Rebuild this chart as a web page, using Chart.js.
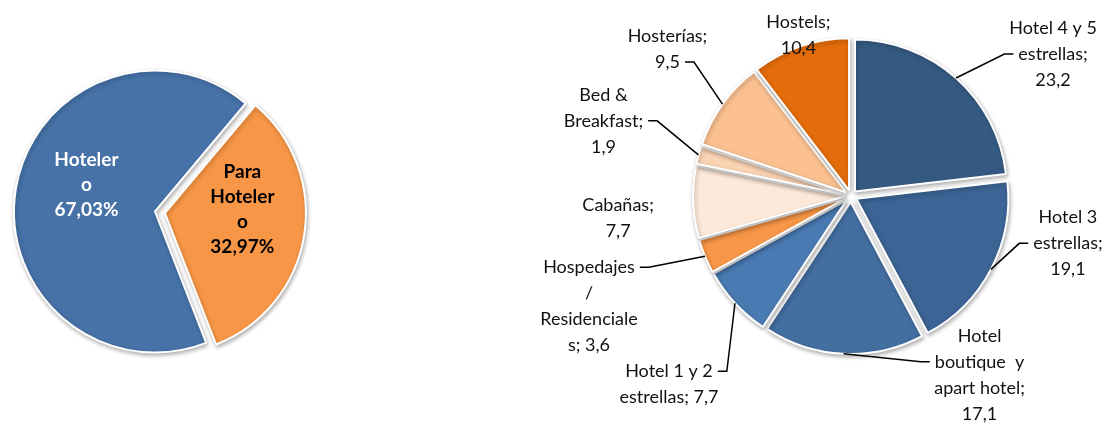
<!DOCTYPE html>
<html>
<head>
<meta charset="utf-8">
<script src="https://cdn.jsdelivr.net/npm/chart.js@4.4.1/dist/chart.umd.min.js"></script>
<style>
    body { margin: 0; background: #fff; width: 1107px; height: 423px; overflow: hidden; position: relative; }
    .box { position: absolute; top: 0; height: 423px; }
    #leftBox { left: 0; width: 330px; }
    #rightBox { left: 500px; width: 607px; }
</style>
</head>
<body>
<div class="box" id="leftBox"><canvas id="leftChart"></canvas></div>
<div class="box" id="rightBox"><canvas id="rightChart"></canvas></div>
<script>
// Left pie: share by type
const leftCategories = ['Hotelero', 'Para Hotelero'];
const leftValues = [67.03, 32.97];
const leftColors = ['#4672a8', '#f79646'];
// label text as wrapped in the picture
const leftLabelLines = [
    ['Hoteler', 'o', '67,03%'],
    ['Para', 'Hoteler', 'o', '32,97%']
];

// Right pie: breakdown by establishment
const rightCategories = [
    'Hotel 4 y 5 estrellas', 'Hotel 3 estrellas', 'Hotel boutique y apart hotel',
    'Hotel 1 y 2 estrellas', 'Hospedajes / Residenciales', 'Cabañas',
    'Bed & Breakfast', 'Hosterías', 'Hostels'
];
const rightValues = [23.2, 19.1, 17.1, 7.7, 3.6, 7.7, 1.9, 9.5, 10.4];
const rightColors = ['#355a82', '#3c6494', '#436ea0', '#4a7ab2', '#f79646', '#fde9d9', '#fbd4b4', '#fac090', '#e46c0a'];
const rightLabelLines = [
    ['Hotel 4 y 5', 'estrellas;', '23,2'],
    ['Hotel 3', 'estrellas;', '19,1'],
    ['Hotel', 'boutique  y', 'apart hotel;', '17,1'],
    ['Hotel 1 y 2', 'estrellas; 7,7'],
    ['Hospedajes', '/', 'Residenciale', 's; 3,6'],
    ['Cabañas;', '7,7'],
    ['Bed &', 'Breakfast;', '1,9'],
    ['Hosterías;', '9,5'],
    ['Hostels;', '10,4']
];

// draws the arcs pulled out from the centre, with a soft shadow
const explodePlugin = {
    id: 'explode',
    beforeDatasetDraw(chart, args, opts) {
        const ctx = chart.ctx;
        ctx.save();
        ctx.shadowColor = 'rgba(0,0,0,0.3)';
        ctx.shadowBlur = 4;
        ctx.shadowOffsetX = 1;
        ctx.shadowOffsetY = 2;
        args.meta.data.forEach((arc, i) => {
            const d = opts.distance[i] || 0;
            const mid = (arc.startAngle + arc.endAngle) / 2;
            ctx.save();
            ctx.translate(Math.cos(mid) * d, Math.sin(mid) * d);
            arc.draw(ctx);
            ctx.restore();
        });
        ctx.restore();
        return false;
    }
};

// data labels (+ leader lines)
const labelPlugin = {
    id: 'sliceLabels',
    afterDatasetsDraw(chart, args, opts) {
        const ctx = chart.ctx;
        const arcs = chart.getDatasetMeta(0).data;
        ctx.save();
        ctx.font = opts.font;
        ctx.textAlign = 'center';
        ctx.textBaseline = 'middle';
        arcs.forEach((arc, i) => {
            const lines = opts.lines[i];
            const [k, dx, dy, link] = opts.layout[i];
            const mid = (arc.startAngle + arc.endAngle) / 2;
            const r = arc.outerRadius * k + (opts.distance[i] || 0);
            const ax = arc.x + Math.cos(mid) * r;
            const ay = arc.y + Math.sin(mid) * r;
            const cx = ax + dx, cy = ay + dy;
            const top = cy - (lines.length - 1) * opts.lineHeight / 2;

            ctx.fillStyle = Array.isArray(opts.color) ? opts.color[i] : opts.color;
            lines.forEach((t, j) => ctx.fillText(t, cx, top + j * opts.lineHeight));

            if (link >= 0) {
                const w = ctx.measureText(lines[link]).width;
                const side = cx > ax ? -1 : 1;
                const ly = top + link * opts.lineHeight;
                const ex = cx + side * (w / 2 + 5);
                const bx = ex + side * 9;
                ctx.strokeStyle = '#000';
                ctx.lineWidth = 1.5;
                ctx.beginPath();
                ctx.moveTo(ax, ay);
                ctx.lineTo(bx, ly);
                ctx.lineTo(ex, ly);
                ctx.stroke();
            }
        });
        ctx.restore();
    }
};

Chart.defaults.font.family = 'Lato, "Open Sans", sans-serif';

const leftDistance = [0, 10];
new Chart(document.getElementById('leftChart'), {
    type: 'pie',
    data: {
        labels: leftCategories,
        datasets: [{
            data: leftValues,
            backgroundColor: leftColors,
            borderColor: '#fff',
            borderWidth: 2
        }]
    },
    options: {
        responsive: true,
        maintainAspectRatio: false,
        animation: false,
        rotation: 158.7,
        radius: 141,
        layout: { padding: { right: 20 } },
        events: [],
        plugins: {
            legend: { display: false },
            tooltip: { enabled: false },
            explode: { distance: leftDistance },
            sliceLabels: {
                lines: leftLabelLines,
                distance: leftDistance,
                font: 'bold 19px Lato, sans-serif',
                lineHeight: 25,
                color: ['#fff', '#000'],
                layout: [[0.5, 1, -15, -1], [0.55, 1, -16, -1]]
            }
        }
    },
    plugins: [explodePlugin, labelPlugin]
});

const rightDistance = [6, 6, 6, 6, 6, 6, 6, 6, 6];
new Chart(document.getElementById('rightChart'), {
    type: 'pie',
    data: {
        labels: rightCategories,
        datasets: [{
            data: rightValues,
            backgroundColor: rightColors,
            borderColor: '#fff',
            borderWidth: 2
        }]
    },
    options: {
        responsive: true,
        maintainAspectRatio: false,
        animation: false,
        rotation: 0,
        radius: 152,
        layout: { padding: { left: 95, bottom: 31 } },
        events: [],
        plugins: {
            legend: { display: false },
            tooltip: { enabled: false },
            explode: { distance: rightDistance },
            sliceLabels: {
                lines: rightLabelLines,
                distance: rightDistance,
                font: '18px Lato, sans-serif',
                lineHeight: 26,
                color: '#111',
                layout: [
                    [1, 97, -24, 1],
                    [1, 77, -26, 1],
                    [1, 136, 21, 1],
                    [1, -66, 81, 0],
                    [1, -116, 50, 0],
                    [1, -75, 16, -1],
                    [1, -95, -34, 1],
                    [1, -55, -55, 1],
                    [1, -2, -11, -1]
                ]
            }
        }
    },
    plugins: [explodePlugin, labelPlugin]
});
</script>
</body>
</html>
